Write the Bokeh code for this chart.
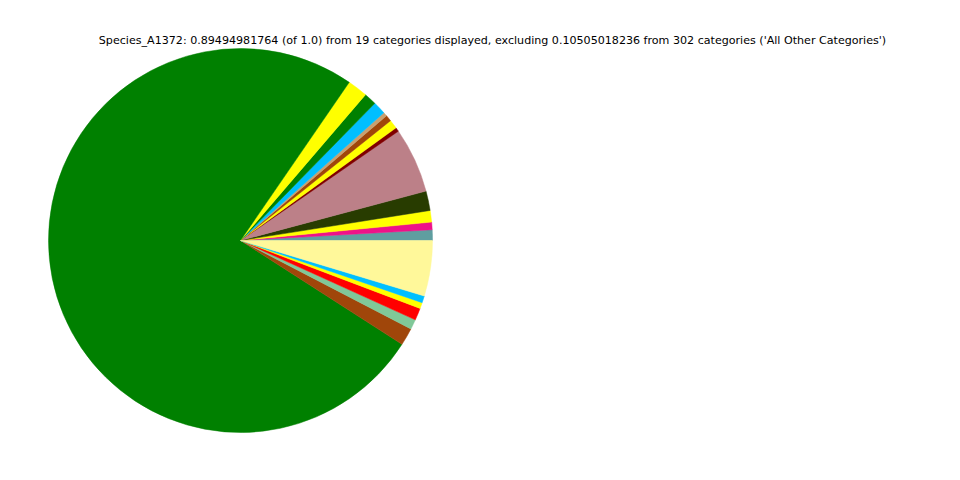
import numpy as np
from bokeh.plotting import figure
from bokeh.models import Range1d, ColumnDataSource
from bokeh.core.properties import value
from bokeh.embed import file_html
from bokeh.resources import INLINE

title_text = ("Species_A1372: 0.89494981764 (of 1.0) from 19 categories displayed, "
              "excluding 0.10505018236 from 302 categories ('All Other Categories')")

categories = ["cat_01", "cat_02", "cat_03", "cat_04", "cat_05", "cat_06", "cat_07",
              "cat_08", "cat_09", "cat_10", "cat_11", "cat_12", "cat_13", "cat_14",
              "cat_15", "cat_16", "cat_17", "cat_18", "cat_19"]
values = [0.0080, 0.0057, 0.0087, 0.0147, 0.0492, 0.0030, 0.0067, 0.0047, 0.0030,
          0.0097, 0.0094, 0.0152, 0.6757, 0.0132, 0.0075, 0.0092, 0.0045, 0.0052,
          0.0418]
colors = ["#5F9EA0", "#EE1289", "#FFFF00", "#283C00", "#BC8088", "#800000", "#FFFF00",
          "#A0460A", "#C8A070", "#00BFFF", "#008000", "#FFFF00", "#008000", "#A0460A",
          "#80C898", "#FF0000", "#FFFF00", "#00BFFF", "#FFF89A"]

vals = np.array(values, dtype=float)
frac = vals / vals.sum()
ends = np.cumsum(frac) * 2 * np.pi
starts = np.concatenate([[0.0], ends[:-1]])

src = ColumnDataSource(dict(cat=categories, start=starts, end=ends, color=colors))

W, H = 944, 464
p = figure(width=W, height=H, output_backend="svg", toolbar_location=None,
           x_range=Range1d(0, W), y_range=Range1d(480 - H, 480),
           min_border=0)
p.axis.visible = False
p.grid.visible = False
p.outline_line_color = None
p.background_fill_color = "white"
p.border_fill_color = "white"

p.wedge(x=240, y=240, radius=192, start_angle="start", end_angle="end",
        fill_color="color", line_color="color", line_width=0.5, source=src)

p.text(x=[492], y=[480 - 40], text=[title_text], text_align="center",
       text_baseline="middle", text_font=value("DejaVu Sans"),
       text_font_size="11.1px", text_color="black")

open("out.html", "w").write(file_html(p, INLINE))
